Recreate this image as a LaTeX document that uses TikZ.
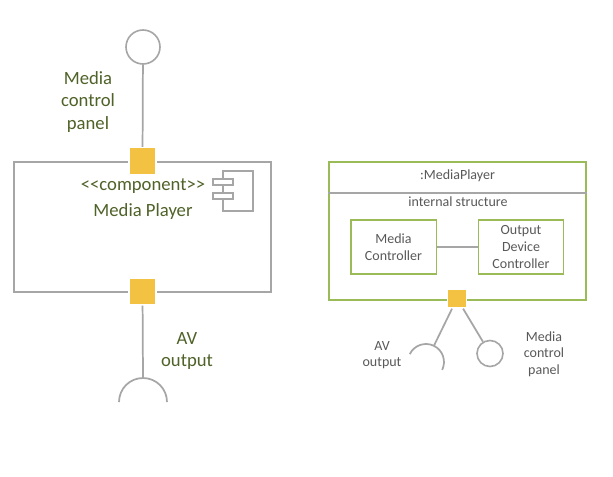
\documentclass[tikz,border=0pt]{standalone}
\usepackage{fontspec}
\setmainfont{Carlito}[Ligatures=TeXOff]
\usetikzlibrary{arrows, calc, shapes}
\definecolor{portfill}{HTML}{F4C242}
\definecolor{boxgray}{HTML}{A6A6A6}
\definecolor{textgreen}{HTML}{4F6228}
\definecolor{boxgreen}{HTML}{9BBB59}
\definecolor{textgray}{HTML}{595959}

\begin{document}
\begin{tikzpicture}[x=0.75pt, y=-0.75pt]
\tikzstyle{every node}+=[inner sep=0pt]
\tikzstyle{lbl}=[text=textgreen, font=\fontsize{14}{17}\selectfont, align=center]
\tikzstyle{slbl}=[text=textgray, font=\fontsize{10.5}{12.5}\selectfont, align=center]
\tikzstyle{portsq}=[fill=portfill, draw=white, line width=1pt, minimum size=20.25pt]
\tikzstyle{iface}=[circle, draw=boxgray, line width=1.2pt, fill=white]
\tikzstyle{wire}=[draw=boxgray, line width=1.3pt]
\tikzstyle{part}=[draw=boxgreen, line width=1pt, minimum width=64pt, minimum height=40.5pt]
\useasboundingbox [fill=white] (0,0) rectangle (613,477);
% left: component with ports
\node [draw=boxgray, line width=1.3pt, minimum width=192.75pt, minimum height=97.5pt] (comp) at (142.5,227) {};
\node [iface, minimum size=25.5pt] (mcpL) at (143,47) {};
\node [portsq] (topport) at (142.5,161) {};
\node [portsq] (botport) at (142.5,291.5) {};
\draw [wire] (mcpL) -- (topport);
\coordinate (avL) at (143,378);
\draw [wire] (botport) -- (avL);
\draw [wire] (119,402) arc (180:360:24);
\node [lbl] (mcpLtxt) at (88,102) {Media\\control\\panel};
\node [lbl] (stereo) at (143,186) {<<component>>};
\node [lbl] (mpname) at (143,212) {Media Player};
\node [lbl] (avLtxt) at (187,351) {AV\\output};
% component icon
\draw [boxgray, line width=1.1pt] (223,171) rectangle (253,211);
\draw [boxgray, line width=1.1pt, fill=white] (213,179) rectangle (233,185);
\draw [boxgray, line width=1.1pt, fill=white] (213,193) rectangle (233,199);
% right: internal structure
\node [draw=boxgreen, line width=1pt, minimum width=192.75pt, minimum height=103.5pt] (mp) at (457.5,231) {};
\draw [wire] (mp.west |- 0,193) -- (mp.east |- 0,193);
\node [slbl] (mptitle) at (457.5,176) {:MediaPlayer};
\node [slbl] (istruct) at (458,202) {internal structure};
\node [part, slbl] (mc) at (393.5,247) {Media\\Controller};
\node [part, slbl] (odc) at (521,247) {Output\\Device\\Controller};
\draw [wire] (mc) -- (odc);
\node [portsq, minimum size=14.25pt] (rport) at (457,298.5) {};
\coordinate (avR) at (433.9,345.8);
\draw [wire] (rport) -- (avR);
\draw [wire] (409.8,354.1) arc (-154:26:18);
\node [iface, minimum size=19.5pt] (mcpR) at (490,353.5) {};
\draw [wire] (rport) -- (mcpR);
\node [slbl] (avRtxt) at (382,355) {AV\\output};
\node [slbl] (mcpRtxt) at (544,354) {Media\\control\\panel};
\end{tikzpicture}
\end{document}
